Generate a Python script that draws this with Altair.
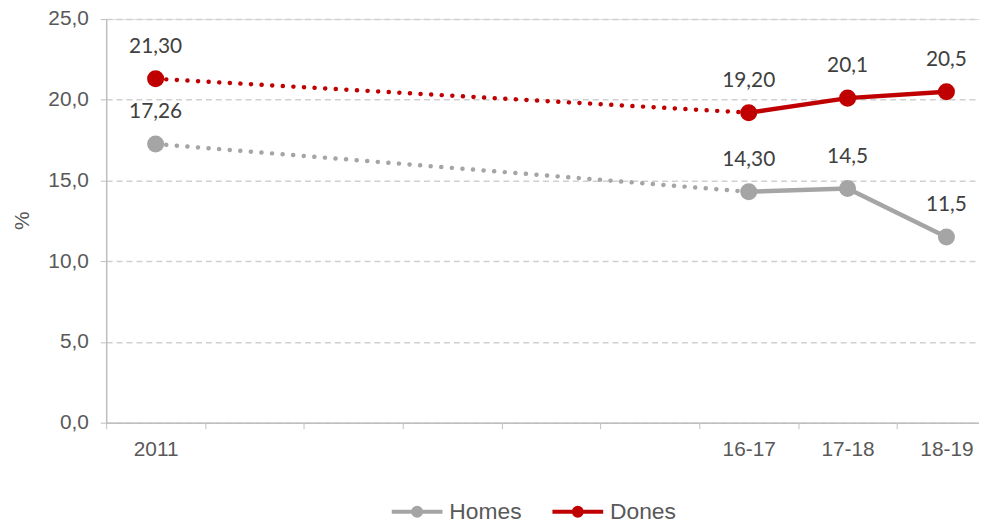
import altair as alt
import pandas as pd

categories = ["2011", "b1", "b2", "b3", "b4", "b5", "16-17", "17-18", "18-19"]
years = ["2011", "16-17", "17-18", "18-19"]
series = ["Homes", "Dones"]
homes = [17.26, 14.30, 14.5, 11.5]
dones = [21.30, 19.20, 20.1, 20.5]
homes_labels = ["17,26", "14,30", "14,5", "11,5"]
dones_labels = ["21,30", "19,20", "20,1", "20,5"]
colors = ["#A5A5A5", "#C00000"]
y_ticks = [0, 5, 10, 15, 20, 25]

rows = []
for name, vals, labs in [("Homes", homes, homes_labels), ("Dones", dones, dones_labels)]:
    for i, (yr, v, lb) in enumerate(zip(years, vals, labs)):
        rows.append({"year": yr, "serie": name, "value": v, "label": lb, "idx": i})
df = pd.DataFrame(rows)
dotted_df = df[df["idx"] <= 1]
solid_df = df[df["idx"] >= 1]

FONT_AX = "Liberation Sans"
FONT_LB = "Lato"

color_scale = alt.Scale(domain=series, range=colors)
x_enc = alt.X(
    "year:N",
    scale=alt.Scale(type="band", domain=categories, range=[0, 897], paddingInner=0, paddingOuter=0),
    sort=categories,
    axis=alt.Axis(
        title=None,
        tickBand="extent",
        labelExpr="indexof(datum.label, 'b') == 0 ? '' : datum.label",
        labelAngle=0,
        labelFont=FONT_AX,
        labelFontSize=21,
        labelColor="#595959",
        labelPadding=10,
        tickSize=6,
        tickColor="#BFBFBF",
        domainColor="#BFBFBF",
        domainWidth=1.5,
        grid=False,
    ),
)
y_enc = alt.Y(
    "value:Q",
    scale=alt.Scale(domain=[0, 25]),
    axis=alt.Axis(
        title="%",
        values=y_ticks,
        labelExpr="replace(format(datum.value, '.1f'), '.', ',')",
        labelFont=FONT_AX,
        labelFontSize=21,
        labelColor="#595959",
        labelPadding=12,
        tickSize=6,
        tickColor="#BFBFBF",
        domainColor="#BFBFBF",
        domainWidth=1.5,
        grid=True,
        gridColor="#D0D0D0",
        gridDash=[6, 4],
        gridWidth=1.5,
        titleFont=FONT_AX,
        titleFontSize=21,
        titleFontWeight="normal",
        titleColor="#595959",
        titleAngle=270,
        titleX=-84,
        titleY=203,
        titleAlign="center",
        titleBaseline="middle",
    ),
)

legend_path = "M-0.93,0L0.93,0M0.145,0A0.145,0.145,0,1,1,-0.145,0A0.145,0.145,0,1,1,0.145,0Z"
leg = alt.Legend(
    title=None,
    orient="none",
    direction="horizontal",
    legendX=284,
    legendY=467,
    symbolType=legend_path,
    symbolSize=3025,
    symbolStrokeWidth=4,
    labelFont=FONT_AX,
    labelFontSize=23,
    labelColor="#595959",
    labelOffset=3,
    columnPadding=22,
    padding=0,
)

color_enc = alt.Color("serie:N", scale=color_scale, legend=leg)

dotted = alt.Chart(dotted_df).mark_line(
    strokeDash=[0.1, 10.6], strokeCap="round", strokeWidth=4.5
).encode(
    x=x_enc, y=y_enc, color=color_enc, detail="serie:N",
)

solid = alt.Chart(solid_df).mark_line(strokeWidth=4.5).encode(
    x=x_enc, y=y_enc, color=color_enc,
)

points = alt.Chart(df).mark_point(filled=True, size=230, opacity=1).encode(
    x=x_enc, y=y_enc,
    color=color_enc,
    stroke=alt.Stroke("serie:N", scale=color_scale, legend=leg),
)

labels = alt.Chart(df).mark_text(
    font=FONT_LB, fontSize=21, color="#404040", dy=-32, baseline="middle", align="center"
).encode(
    x=x_enc, y=y_enc, text="label:N",
)

chart = alt.layer(dotted, solid, points, labels).properties(
    width=880,
    height=407,
    autosize=alt.AutoSizeParams(type="none"),
    padding={"left": 99, "top": 9, "right": 0, "bottom": 96},
).configure_view(stroke=None).configure(background="white")

chart.save("out.html", embed_options={"renderer": "svg", "actions": False})
